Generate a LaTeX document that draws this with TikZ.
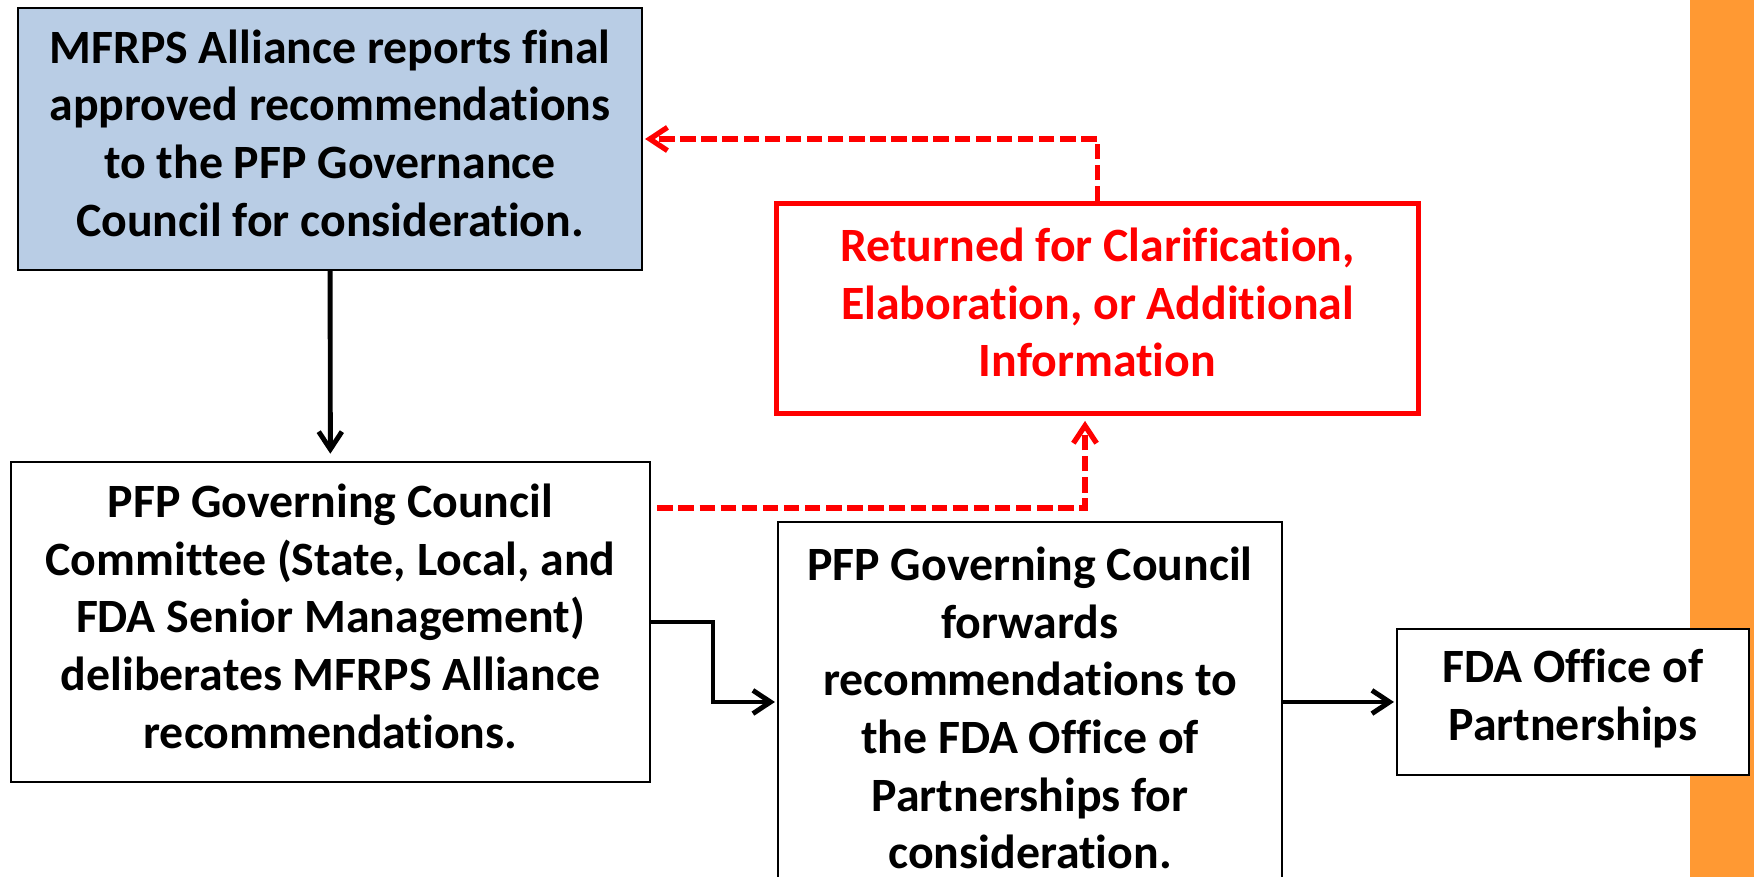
\documentclass[tikz,border=0pt]{standalone}
\usepackage{fontspec}
\setmainfont{Carlito}[Ligatures=NoCommon]
\usetikzlibrary{arrows.meta}
\definecolor{boxblue}{RGB}{185,205,229}
\definecolor{barorange}{RGB}{255,153,51}
\definecolor{myred}{RGB}{255,0,0}
\begin{document}
\begin{tikzpicture}[x=0.01cm,y=-0.01cm,
  box/.style={draw=black, line width=0.65pt, fill=white, align=center, inner sep=0pt,
    font=\fontsize{13.6}{16.4}\selectfont\bfseries},
  redbox/.style={box, draw=myred, line width=1.45pt, text=myred},
  conn/.style={line width=1.4pt, -{Straight Barb[length=5pt,width=6.6pt,line width=1.4pt]}},
  dconn/.style={draw=myred, line width=1.6pt, dash pattern=on 4.4pt off 1.6pt,
    -{Straight Barb[length=5pt,width=6.6pt,line width=1.5pt]}}
]
\useasboundingbox (0,0) rectangle (1754,877);
\clip (0,0) rectangle (1754,877);
\fill[white] (0,0) rectangle (1754,877);
\fill[barorange] (1690,0) rectangle (1754,877);

\node[box, fill=boxblue, minimum width=6.24cm, minimum height=2.62cm, text depth=3.4pt] (b1) at (330,139)
  {MFRPS Alliance reports final\\approved recommendations\\to the PFP Governance\\Council for consideration.};
\node[box, minimum width=6.39cm, minimum height=3.20cm, text depth=3.4pt] (b2) at (330.5,622)
  {PFP Governing Council\\Committee (State, Local, and\\FDA Senior Management)\\deliberates MFRPS Alliance\\recommendations.};
\node[redbox, minimum width=6.41cm, minimum height=2.09cm, text depth=3.4pt] (r) at (1097.5,308.5)
  {Returned for Clarification,\\Elaboration, or Additional\\Information};
\node[box, minimum width=5.04cm, minimum height=3.72cm] (b3) at (1030,708)
  {PFP Governing Council\\forwards\\recommendations to\\the FDA Office of\\Partnerships for\\consideration.};
\node[box, minimum width=3.52cm, minimum height=1.46cm, text depth=4.2pt] (b4) at (1573,702)
  {FDA Office of\\Partnerships};

\coordinate (e1) at (713,702);
\coordinate (d1) at (1085,508);

\draw[conn, shorten >=2pt] (b1) -- (b2);
\draw[conn, shorten >=0.5pt] (b2.east) -| (e1) -- (e1 -| b3.west);
\draw[conn, shorten >=0.5pt] (b3.east |- b4.west) -- (b4.west);
\draw[dconn, shorten >=1.5pt] ([xshift=1.7pt]d1 -| b2.east) -| (d1 |- r.south);
\draw[dconn, shorten >=0.5pt] (r.north) |- (b1.east);
\end{tikzpicture}
\end{document}
